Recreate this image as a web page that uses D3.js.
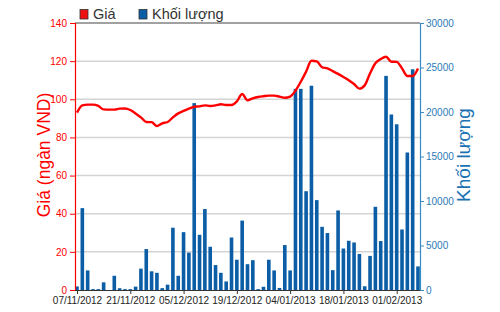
<!DOCTYPE html>
<html>
<head>
	<meta charset="utf-8">
	<title>Giá và khối lượng</title>
	<style type="text/css">
		body { margin: 0; background: #fff; }
		#chart { display: block; }
		.grid line { stroke: #d4d4d4; stroke-width: 1.5; }
		.tick text { font-family: "Liberation Sans Narrow", "Liberation Sans", Arial, sans-serif; font-size: 10px; }
	</style>
</head>
<body>
<svg id="chart"></svg>

<script src="https://cdn.jsdelivr.net/npm/d3@7/dist/d3.min.js"></script>
<script type="text/javascript">

	// trading days
	var dates = [
		"07/11/2012","08/11/2012","09/11/2012","12/11/2012","13/11/2012","14/11/2012","15/11/2012","16/11/2012","19/11/2012","20/11/2012",
		"21/11/2012","22/11/2012","23/11/2012","26/11/2012","27/11/2012","28/11/2012","29/11/2012","30/11/2012","03/12/2012","04/12/2012",
		"05/12/2012","06/12/2012","07/12/2012","10/12/2012","11/12/2012","12/12/2012","13/12/2012","14/12/2012","17/12/2012","18/12/2012",
		"19/12/2012","20/12/2012","21/12/2012","24/12/2012","25/12/2012","26/12/2012","27/12/2012","28/12/2012","02/01/2013","03/01/2013",
		"04/01/2013","07/01/2013","08/01/2013","09/01/2013","10/01/2013","11/01/2013","14/01/2013","15/01/2013","16/01/2013","17/01/2013",
		"18/01/2013","21/01/2013","22/01/2013","23/01/2013","24/01/2013","25/01/2013","28/01/2013","29/01/2013","30/01/2013","31/01/2013",
		"01/02/2013","04/02/2013","05/02/2013","06/02/2013","07/02/2013"
	];

	var price = [
		93.0, 96.8, 97.2, 97.2, 96.5, 94.7, 94.6, 94.6, 95.1, 95.2,
		94.4, 92.6, 90.5, 88.1, 88.0, 86.0, 87.4, 88.1, 90.5, 92.6,
		93.9, 95.1, 96.1, 96.3, 96.8, 96.5, 96.8, 97.4, 97.0, 97.0,
		98.9, 102.8, 99.5, 100.5, 101.2, 101.6, 101.9, 101.9, 101.4, 100.8,
		101.4, 104.5, 109.2, 114.5, 120.2, 119.9, 116.8, 116.2, 114.8, 113.3,
		111.7, 110.0, 108.0, 105.6, 107.3, 113.6, 118.9, 121.1, 122.3, 119.7,
		119.6, 116.2, 112.2, 112.2, 116.2
	];

	var volume = [
		400, 9200, 2200, 100, 100, 860, 0, 1600, 200, 100,
		100, 380, 2400, 4600, 2100, 1930, 210, 600, 7000, 1600,
		6500, 4200, 21000, 6200, 9100, 4860, 2800, 1930, 960, 5900,
		3400, 7800, 2900, 3350, 100, 360, 3400, 2200, 230, 5050,
		2200, 22600, 22600, 11100, 22950, 10100, 7100, 6400, 2230, 8940,
		4660, 5530, 5340, 4050, 420, 3830, 9350, 5500, 24060, 19720,
		18620, 6800, 15450, 24800, 2650
	];

	var priceTicks = [0, 20, 40, 60, 80, 100, 120, 140];
	var volumeTicks = [0, 5000, 10000, 15000, 20000, 25000, 30000];
	var dateTicks = dates.filter((d, i) => i % 10 == 0);

	var width = 500, height = 312;
	var plotL = 75, plotR = 420, plotT = 23, plotB = 290;

	var red = "#ff0000", blue = "#0b5ea6", axisBlue = "#3a8cc4";

	var svg = d3.select("#chart")
		.attr("width", width)
		.attr("height", height)
		.style("font-family", "'Liberation Sans', Arial, sans-serif");

	var x = d3.scalePoint().domain(dates).range([plotL + 2, plotR - 2]);
	var yPrice = d3.scaleLinear().domain([0, 140]).range([plotB, plotT]);
	var yVol = d3.scaleLinear().domain([0, 30000]).range([plotB, plotT]);

	// grid lines
	svg.append("g").attr("class", "grid")
		.selectAll("line")
		.data(priceTicks.filter(d => d > 0 && d < 140))
		.enter().append("line")
		.attr("x1", plotL).attr("x2", plotR)
		.attr("y1", d => yPrice(d)).attr("y2", d => yPrice(d));

	// top border
	svg.append("line")
		.attr("x1", plotL).attr("x2", plotR)
		.attr("y1", plotT).attr("y2", plotT)
		.attr("stroke", "#444").attr("stroke-width", 1.2);

	// volume bars
	var bw = 3.6;
	svg.append("g").selectAll("rect")
		.data(volume)
		.enter().append("rect")
		.attr("x", (d, i) => x(dates[i]) - bw / 2)
		.attr("width", bw)
		.attr("y", d => yVol(d))
		.attr("height", d => plotB - yVol(d))
		.attr("fill", blue);

	// price line
	var line = d3.line()
		.x((d, i) => x(dates[i]))
		.y(d => yPrice(d))
		.curve(d3.curveMonotoneX);

	svg.append("path")
		.datum(price)
		.attr("d", line)
		.attr("fill", "none")
		.attr("stroke", red)
		.attr("stroke-width", 2.4)
		.attr("stroke-linejoin", "round");

	// left axis
	var gLeft = svg.append("g")
		.attr("transform", `translate(${plotL},0)`)
		.call(d3.axisLeft(yPrice).tickValues(priceTicks).tickSize(5).tickPadding(3));
	gLeft.select(".domain").attr("stroke", red).attr("stroke-width", 1.2);
	gLeft.selectAll(".tick line").attr("stroke", red);
	gLeft.selectAll(".tick text").attr("fill", red);

	// right axis
	var gRight = svg.append("g")
		.attr("transform", `translate(${plotR},0)`)
		.call(d3.axisRight(yVol).tickValues(volumeTicks).tickFormat(d3.format("d")).tickSize(4).tickPadding(2));
	gRight.select(".domain").attr("stroke", axisBlue).attr("stroke-width", 1.2);
	gRight.selectAll(".tick line").attr("stroke", axisBlue);
	gRight.selectAll(".tick text").attr("fill", "#2a7ab8");

	// bottom axis
	var gBottom = svg.append("g")
		.attr("transform", `translate(0,${plotB})`)
		.call(d3.axisBottom(x).tickValues(dateTicks).tickSize(4).tickPadding(3).tickSizeOuter(0));
	gBottom.select(".domain").attr("stroke", "#333").attr("stroke-width", 1.2)
		.attr("d", `M${plotL},0.5H${plotR}`);
	gBottom.selectAll(".tick line").attr("stroke", "#333");
	gBottom.selectAll(".tick text").attr("fill", "#222");

	// axis titles
	svg.append("text")
		.attr("transform", `translate(50,155) rotate(-90)`)
		.attr("text-anchor", "middle")
		.attr("fill", red)
		.style("font-size", "17.5px")
		.text("Giá (ngàn VND)");

	svg.append("text")
		.attr("transform", `translate(470,155) rotate(-90)`)
		.attr("text-anchor", "middle")
		.attr("fill", "#1a72b3")
		.style("font-size", "19px")
		.text("Khối lượng");

	// legend
	var legend = [
		{label: "Giá", color: "#ee1111", x: 80},
		{label: "Khối lượng", color: blue, x: 139}
	];
	var lg = svg.append("g").selectAll("g")
		.data(legend)
		.enter().append("g")
		.attr("transform", d => `translate(${d.x},9.5)`);
	lg.append("rect")
		.attr("width", 8).attr("height", 9.5)
		.attr("fill", d => d.color)
		.attr("stroke", "#333").attr("stroke-width", 0.8);
	lg.append("text")
		.attr("x", 13).attr("y", 9.5)
		.attr("fill", "#333")
		.style("font-family", "'Liberation Sans Narrow', 'Liberation Sans', sans-serif")
		.style("font-size", "14.5px")
		.text(d => d.label);

</script>
</body>
</html>
